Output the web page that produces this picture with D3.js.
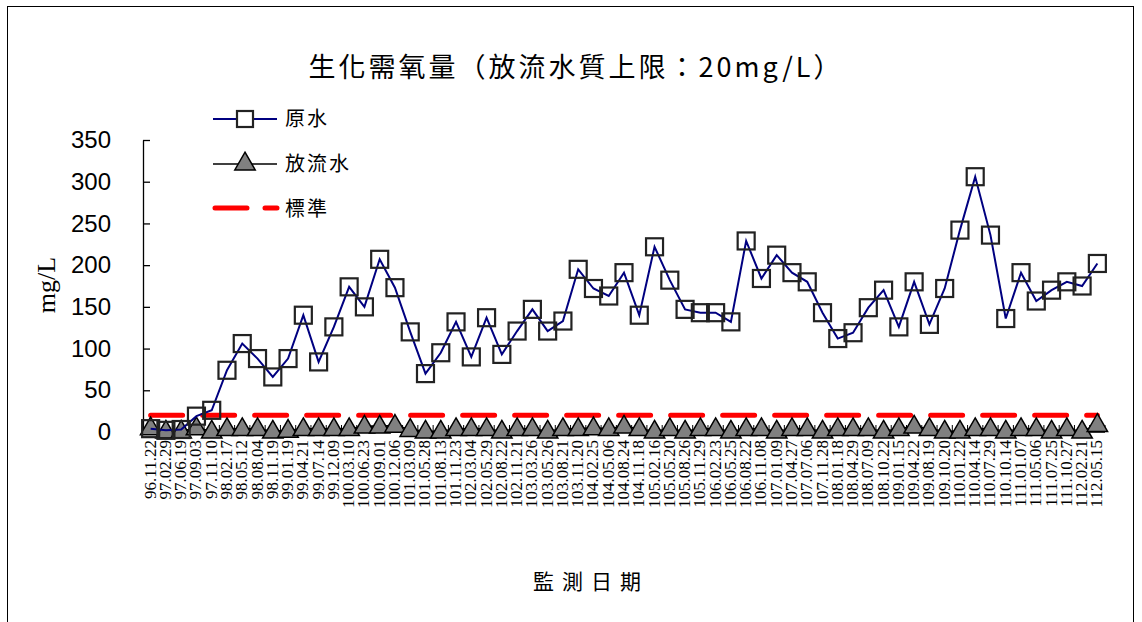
<!DOCTYPE html>
<html lang="zh-Hant">
<head>
<meta charset="UTF-8">
<title>生化需氧量</title>
<script src="https://d3js.org/d3.v7.min.js"></script>
<style>
    body{ margin:0; background:#fff; }
    .cjk{ font-family:"Noto Sans CJK TC", sans-serif; }
</style>
</head>
<body>
<script>
    // 監測日期
    const dates = ["96.11.22","97.02.29","97.06.19","97.09.03","97.11.10","98.02.17","98.05.12","98.08.04",
        "98.11.19","99.01.19","99.04.21","99.07.14","99.12.09","100.03.10","100.06.23","100.09.01",
        "100.12.06","101.03.09","101.05.28","101.08.13","101.11.23","102.03.04","102.05.29","102.08.22",
        "102.11.21","103.03.26","103.05.26","103.08.21","103.11.20","104.02.25","104.05.06","104.08.24",
        "104.11.18","105.02.16","105.05.20","105.08.26","105.11.29","106.02.23","106.05.25","106.08.22",
        "106.11.08","107.01.09","107.04.27","107.07.06","107.11.28","108.01.18","108.04.29","108.07.09",
        "108.10.22","109.01.15","109.04.22","109.08.19","109.10.20","110.01.22","110.04.14","110.07.29",
        "110.10.14","111.01.07","111.05.06","111.07.25","111.10.27","112.02.21","112.05.15"];

    // 原水 (mg/L)
    const raw = [4,2,3,19,26,74,106,88,66,88,140,84,126,174,150,207,173,120,70,95,
        132,90,137,93,121,147,121,133,195,172,163,191,140,222,182,147,143,143,132,229,
        184,212,191,180,143,112,119,149,170,126,180,129,172,242,306,236,136,191,157,170,
        180,175,202];

    // 放流水 (mg/L)
    const effluent = [5,1,1,5,1,4,4,4,1,2,4,4,4,4,7,7,8,3,1,1,
        4,4,4,1,4,4,1,4,4,5,4,7,4,1,4,1,4,4,1,4,
        4,1,4,4,1,4,4,4,1,4,7,4,1,1,4,4,1,4,4,1,
        4,1,9];

    const standard = 20;
    const yTicks = [0,50,100,150,200,250,300,350];

    const width = 1142, height = 622;
    const svg = d3.select("body").append("svg")
        .attr("width", width).attr("height", height);

    // frame
    svg.append("rect")
        .attr("x", 7.5).attr("y", 6.5)
        .attr("width", 1126).attr("height", 640)
        .attr("fill", "none").attr("stroke", "#000").attr("stroke-width", 1);

    const x = d3.scalePoint().domain(dates).range([143, 1105]).padding(0.5);
    const y = d3.scaleLinear().domain([0, 350]).range([432, 140]);

    // y axis
    const yAxis = svg.append("g")
        .attr("transform", "translate(143,0)")
        .call(d3.axisLeft(y).tickValues(yTicks).tickSize(-7).tickSizeOuter(0).tickPadding(32));
    yAxis.selectAll("text")
        .attr("font-family", "Liberation Sans, Arial, sans-serif")
        .attr("font-size", 24).attr("fill", "#000");
    yAxis.selectAll("line,path").attr("stroke", "#000").attr("stroke-width", 1.3);

    // x axis line + ticks between categories
    const step = x.step();
    svg.append("line")
        .attr("x1", 143).attr("x2", 1105)
        .attr("y1", y(0)).attr("y2", y(0))
        .attr("stroke", "#000").attr("stroke-width", 1.3);
    svg.append("g").selectAll("line")
        .data(dates)
        .join("line")
        .attr("x1", d => x(d) + step / 2).attr("x2", d => x(d) + step / 2)
        .attr("y1", y(0)).attr("y2", y(0) - 7)
        .attr("stroke", "#000");

    // x labels
    svg.append("g").selectAll("text")
        .data(dates)
        .join("text")
        .attr("transform", d => `translate(${x(d) + 5},440) rotate(-90)`)
        .attr("text-anchor", "end")
        .attr("font-family", "Liberation Serif, serif")
        .attr("font-size", 17)
        .text(d => d);

    // standard line
    svg.append("line")
        .attr("x1", x(dates[0])).attr("x2", x(dates[dates.length - 1]))
        .attr("y1", y(standard)).attr("y2", y(standard))
        .attr("stroke", "#ff0000").attr("stroke-width", 5)
        .attr("stroke-dasharray", "32,20").attr("stroke-linecap", "round");

    const triPath = d3.symbol().type(d3.symbolTriangle).size(180);

    // effluent
    const line = d3.line().x((d, i) => x(dates[i])).y(d => y(d));
    svg.append("path")
        .datum(effluent)
        .attr("d", line)
        .attr("fill", "none").attr("stroke", "#000").attr("stroke-width", 1.5);
    svg.append("g").selectAll("path")
        .data(effluent)
        .join("path")
        .attr("transform", (d, i) => `translate(${x(dates[i])},${y(d) + 1})`)
        .attr("d", triPath)
        .attr("fill", "#808080").attr("stroke", "#000").attr("stroke-width", 1.5);

    // raw water
    svg.append("path")
        .datum(raw)
        .attr("d", line)
        .attr("fill", "none").attr("stroke", "#000080").attr("stroke-width", 2);
    svg.append("g").selectAll("rect")
        .data(raw)
        .join("rect")
        .attr("x", (d, i) => x(dates[i]) - 8.5).attr("y", d => y(d) - 8.5)
        .attr("width", 17).attr("height", 17)
        .attr("fill", "none").attr("stroke", "#222").attr("stroke-width", 2.2);

    // legend
    const lg = svg.append("g");
    lg.append("line").attr("x1", 213).attr("x2", 277).attr("y1", 119).attr("y2", 119)
        .attr("stroke", "#000080").attr("stroke-width", 2);
    lg.append("rect").attr("x", 237).attr("y", 111).attr("width", 16).attr("height", 16)
        .attr("fill", "#fff").attr("stroke", "#222").attr("stroke-width", 2.2);
    lg.append("line").attr("x1", 213).attr("x2", 277).attr("y1", 164).attr("y2", 164)
        .attr("stroke", "#000").attr("stroke-width", 1.5);
    lg.append("path").attr("transform", "translate(245,164)").attr("d", triPath)
        .attr("fill", "#808080").attr("stroke", "#000").attr("stroke-width", 1.5);
    lg.append("line").attr("x1", 215).attr("x2", 277).attr("y1", 208).attr("y2", 208)
        .attr("stroke", "#ff0000").attr("stroke-width", 5)
        .attr("stroke-dasharray", "32,18").attr("stroke-linecap", "round");
    const names = ["原水", "放流水", "標準"];
    lg.selectAll("text").data(names).join("text")
        .attr("class", "cjk")
        .attr("x", 285).attr("y", (d, i) => 119 + i * 45)
        .attr("dy", "0.35em")
        .attr("font-size", 20).attr("letter-spacing", 2)
        .text(d => d);

    // titles
    svg.append("text").attr("class", "cjk")
        .attr("x", 576).attr("y", 68).attr("dy", "0.35em")
        .attr("text-anchor", "middle")
        .attr("font-size", 27).attr("letter-spacing", 3)
        .text("生化需氧量（放流水質上限：20mg/L）");

    svg.append("text")
        .attr("transform", "translate(46,285) rotate(-90)")
        .attr("text-anchor", "middle").attr("dy", "0.35em")
        .attr("font-family", "Liberation Serif, serif").attr("font-size", 26)
        .text("mg/L");

    svg.append("text").attr("class", "cjk")
        .attr("x", 591).attr("y", 582).attr("dy", "0.35em")
        .attr("text-anchor", "middle")
        .attr("font-size", 21).attr("letter-spacing", 8)
        .text("監測日期");
</script>
</body>
</html>
